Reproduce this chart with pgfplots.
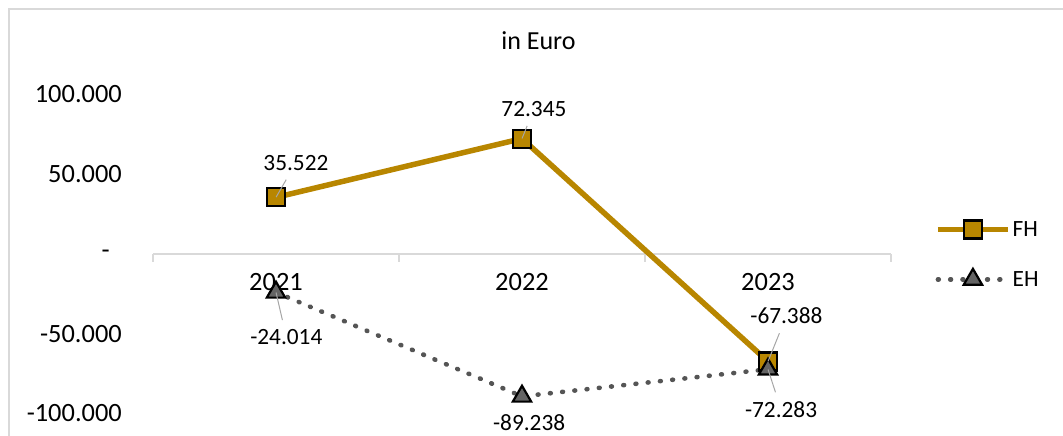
\documentclass[border=0pt]{standalone}
\usepackage{pgfplots}
\pgfplotsset{compat=1.18}
\usepackage{fontspec}
\setmainfont{Carlito}
\definecolor{gold}{RGB}{184,134,0}
\definecolor{ehgray}{RGB}{85,85,85}
\definecolor{trifill}{RGB}{100,100,100}
\definecolor{axisgray}{RGB}{217,217,217}
\definecolor{leadergray}{RGB}{166,166,166}

\pgfplotsset{
  lab/.style n args={3}{
    draw=none, mark=none, forget plot,
    nodes near coords={},
    point meta=explicit symbolic,
    every node near coord/.style={inner sep=0pt, minimum size=0pt, anchor=center,
      pin={[pin distance=#2pt, anchor=center, inner xsep=2pt, inner ysep=9pt,
            font=\fontsize{23.3}{28}\selectfont, text=black,
            pin edge={draw, solid, leadergray, line width=1pt, draw opacity=#3}]#1:\pgfplotspointmeta}},
  },
}

\begin{document}
\begin{tikzpicture}
\useasboundingbox (0,0) rectangle (1063pt,436pt);
\draw[axisgray, line width=1.5pt] (9pt,-20pt) rectangle (1090pt,427pt);
\begin{axis}[
  scale only axis, width=738pt, height=319pt,
  at={(153pt,22.5pt)}, anchor=south west,
  xmin=-0.5, xmax=2.5, ymin=-100000, ymax=100000,
  axis x line=middle, axis y line=left,
  x axis line style={draw=axisgray, line width=1.5pt, -},
  y axis line style={draw=none},
  hide obscured x ticks=false, hide obscured y ticks=false,
  xtick={0,1,2}, xticklabels={2021,2022,2023},
  minor xtick={-0.5,0.5,1.5,2.5},
  ytick={-100000,-50000,0,50000,100000},
  yticklabels={-100.000,-50.000,{-\hspace*{12pt}},50.000,100.000},
  tick align=outside,
  major tick length=0pt, minor tick length=8pt,
  minor tick style={draw=axisgray, line width=1.5pt},
  major tick style={draw=none},
  scaled y ticks=false,
  tick label style={font=\fontsize{26.4}{30}\selectfont},
  xticklabel style={anchor=north, inner sep=0pt, yshift=-19pt},
  yticklabel style={anchor=east, inner sep=0pt, xshift=-31pt},
  clip=false,
  title={in Euro},
  title style={at={(axis description cs:0.5224,1.1238)}, anchor=base, inner sep=0pt, font=\fontsize{26}{30}\selectfont},
  legend style={at={(axis description cs:1.0596,0.4984)}, anchor=west, draw=none, fill=none,
    inner sep=0pt, row sep=29pt, font=\fontsize{23.3}{28}\selectfont, cells={anchor=west}},
  legend image code/.code={\draw[mark repeat=2, mark phase=2, #1] plot coordinates {(0pt,0pt) (35pt,0pt) (70pt,0pt)};},
]
\addplot[gold, line width=5.5pt, mark=square*, mark size=9pt,
  mark options={solid, fill=gold, draw=black, line width=2.2pt}]
  coordinates {(0,35522) (1,72345) (2,-67388)};
\addlegendentry{FH}
\addplot[ehgray, line width=4.6pt, line cap=round, dash pattern=on 0.8pt off 11.5pt,
  mark=triangle*, mark size=10.6pt,
  mark options={solid, fill=trifill, draw=black, line width=2.2pt}]
  coordinates {(0,-24014) (1,-89238) (2,-72283)};
\addlegendentry{EH}
% data labels
\addplot[lab={60.5}{39.6}{1}] coordinates {(0,35522) [35.522]};
\addplot[lab={68.7}{31.7}{1}] coordinates {(1,72345) [72.345]};
\addplot[lab={68.4}{48.9}{1}] coordinates {(2,-67388) [-67.388]};
\addplot[lab={-77.3}{45.6}{1}] coordinates {(0,-24014) [-24.014]};
\addplot[lab={-75.2}{27.4}{0}] coordinates {(1,-89238) [-89.238]};
\addplot[lab={-72.0}{42.1}{1}] coordinates {(2,-72283) [-72.283]};
\end{axis}
\end{tikzpicture}
\end{document}
